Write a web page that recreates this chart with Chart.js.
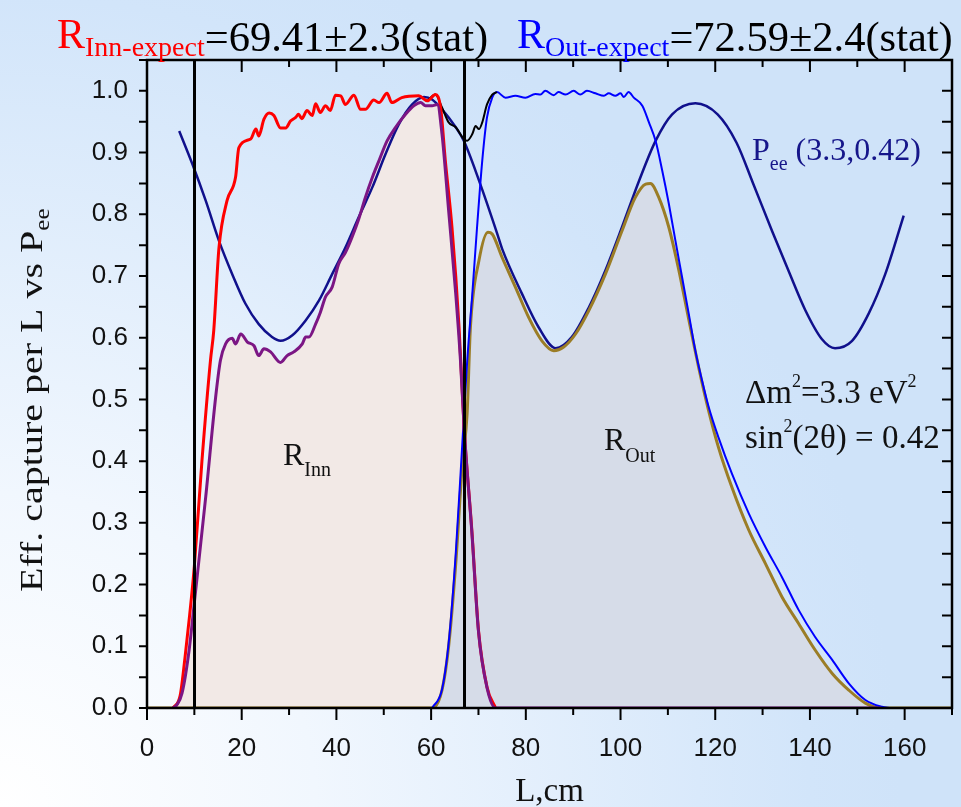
<!DOCTYPE html>
<html>
<head>
<meta charset="utf-8">
<script src="https://cdn.jsdelivr.net/npm/chart.js@4.4.1/dist/chart.umd.min.js"></script>
<style>
  html, body { margin: 0; padding: 0; }
  body {
    width: 961px; height: 807px; overflow: hidden;
    background: radial-gradient(circle 900px at 0 100%, #ffffff 0%, #f1f7fe 35%, #d2e5fa 90%, #cfe3f9 100%);
  }
  canvas { display: block; }
</style>
</head>
<body>
<canvas id="chart" width="961" height="807"></canvas>
<script>
// --- values ---
// inner detector efficiency (red)
const innEffL = [5.5, 7, 8, 9, 10, 11.6, 13.4, 14.1, 15.2, 16.9, 18.7, 19.4, 21.9, 23, 23.6, 24.7, 25.8, 26.8, 28.2, 29.3, 30.3, 31.4, 32, 32.7, 33.8, 34.9, 35.6, 36.6, 37.7, 38.7, 39.8, 40.9, 41.9, 43.7, 45.1, 46.1, 47.9, 49, 50.7, 51.7, 53.8, 57.4, 59.2, 60.9, 62, 63, 64.4, 65.9, 67, 68.6, 70, 71.8, 73.6];
const innEff = [0, 0.02, 0.08, 0.15, 0.23, 0.40, 0.563, 0.612, 0.746, 0.822, 0.86, 0.908, 0.922, 0.938, 0.927, 0.954, 0.964, 0.96, 0.94, 0.94, 0.951, 0.957, 0.962, 0.955, 0.968, 0.96, 0.979, 0.965, 0.976, 0.968, 0.993, 0.992, 0.978, 0.993, 0.97, 0.97, 0.985, 0.981, 0.996, 0.981, 0.989, 0.992, 0.984, 0.994, 0.973, 0.887, 0.779, 0.617, 0.45, 0.288, 0.126, 0.034, 0];

// inner rate x Pee (purple, filled)
const innRateL = [5.5, 6.3, 7.4, 8.9, 9.9, 12.4, 14.5, 15.5, 16.6, 18, 18.7, 19.8, 21.2, 22.6, 23.6, 24.7, 26.1, 28.2, 29.6, 31, 32.8, 33.5, 34.2, 35.6, 36.6, 37.7, 39.1, 40.5, 41.9, 43.3, 44.7, 46.1, 47.6, 49, 50.7, 52.5, 54.6, 56.4, 57.8, 58.8, 60.2, 61.3, 62.3, 63.7, 65.2, 66.2, 67, 68.6, 70, 71.8, 73.6, 100, 155];
const innRate = [0, 0.005, 0.024, 0.094, 0.164, 0.342, 0.504, 0.563, 0.59, 0.599, 0.59, 0.606, 0.593, 0.587, 0.571, 0.582, 0.577, 0.56, 0.571, 0.577, 0.59, 0.601, 0.601, 0.622, 0.641, 0.666, 0.682, 0.72, 0.738, 0.763, 0.792, 0.827, 0.86, 0.887, 0.919, 0.941, 0.962, 0.976, 0.981, 0.976, 0.976, 0.978, 0.93, 0.806, 0.671, 0.563, 0.45, 0.285, 0.124, 0.033, 0, 0, 0];

// outer detector efficiency (blue)
const outEffL = [60.2, 62.3, 63.7, 65.2, 66.6, 67.6, 68.7, 69.7, 70.8, 71.8, 72.9, 73.9, 75.7, 77.8, 79.9, 82, 83.1, 84.1, 85.9, 86.9, 88.4, 90.1, 91.5, 92.9, 94.7, 96.5, 97.5, 98.9, 100, 100.7, 101.7, 102.8, 104.6, 106, 107.4, 108.8, 110.2, 111.6, 113, 114.4, 115.8, 117.2, 118.6, 120.7, 123.5, 127.1, 130.6, 134.1, 137.6, 141.1, 144.7, 148.2, 151.7, 155.2, 157];
const outEff = [0, 0.03, 0.105, 0.25, 0.43, 0.56, 0.671, 0.779, 0.887, 0.957, 0.989, 0.998, 0.989, 0.992, 0.989, 0.995, 0.994, 1.0, 0.993, 0.998, 0.994, 1.0, 0.994, 1.0, 0.996, 0.992, 0.996, 0.992, 0.996, 0.99, 0.998, 0.989, 0.976, 0.949, 0.919, 0.871, 0.817, 0.757, 0.698, 0.639, 0.579, 0.531, 0.488, 0.438, 0.38, 0.315, 0.261, 0.212, 0.159, 0.115, 0.078, 0.04, 0.013, 0.002, 0];

// outer rate x Pee (olive, filled)
const outRateL = [0, 60.2, 62.3, 63.7, 65.2, 66.6, 67.6, 68.3, 70.1, 72, 72.9, 75, 77.8, 80.6, 83.4, 85.9, 88, 90.5, 93.3, 96.8, 100.3, 103.1, 105.3, 106.3, 108.1, 110.2, 112.3, 114.4, 116.5, 118.6, 120.7, 123.5, 127.1, 130.6, 134.1, 137.6, 141.1, 144.7, 148.2, 151.7, 155, 170];
const outRate = [0, 0, 0.029, 0.1, 0.234, 0.396, 0.477, 0.617, 0.725, 0.771, 0.768, 0.73, 0.682, 0.633, 0.595, 0.579, 0.585, 0.606, 0.644, 0.703, 0.773, 0.827, 0.849, 0.85, 0.827, 0.779, 0.71, 0.63, 0.552, 0.482, 0.422, 0.358, 0.288, 0.234, 0.18, 0.137, 0.094, 0.056, 0.029, 0.008, 0, 0];

// combined efficiency (black)
const sumL = [59.2, 60.9, 62.3, 63.7, 65.2, 66.9, 67.6, 68.7, 69.4, 70.1, 70.8, 71.8, 72.9, 73.9];
const sum = [0.984, 0.994, 0.973, 0.949, 0.941, 0.922, 0.919, 0.93, 0.943, 0.938, 0.949, 0.978, 0.994, 0.998];

// survival probability Pee(3.3, 0.42) (navy)
const peeL = [6.8, 9.6, 12.4, 15.2, 18, 20.8, 23.6, 26.4, 28.2, 30.7, 33.5, 36.3, 39.1, 41.9, 44.7, 47.6, 50.4, 53.2, 56, 58.5, 60.2, 62.3, 65.2, 66.9, 70.1, 73.9, 75, 79.2, 82.7, 86.3, 89.7, 93.3, 96.8, 100.3, 103.9, 107.4, 110.9, 115.8, 120.5, 124.5, 128, 132, 135.5, 139, 142.5, 145.3, 148.9, 152.4, 155.9, 159.8];
const pee = [0.935, 0.881, 0.822, 0.757, 0.703, 0.655, 0.622, 0.601, 0.595, 0.604, 0.628, 0.66, 0.703, 0.746, 0.795, 0.844, 0.898, 0.946, 0.978, 0.99, 0.986, 0.97, 0.941, 0.919, 0.855, 0.77, 0.744, 0.671, 0.617, 0.583, 0.601, 0.649, 0.709, 0.779, 0.854, 0.919, 0.962, 0.98, 0.962, 0.916, 0.85, 0.773, 0.708, 0.645, 0.598, 0.583, 0.595, 0.639, 0.703, 0.798];

// detector boundaries (vertical lines)
const cuts = [10, 67];

// axes
const xTicks = [0, 20, 40, 60, 80, 100, 120, 140, 160];
const yTicks = [0, 0.1, 0.2, 0.3, 0.4, 0.5, 0.6, 0.7, 0.8, 0.9, 1.0];

const SERIF = '"Liberation Serif", "Times New Roman", serif';
const SANS = '"Liberation Sans", Arial, sans-serif';
const NAVY = '#16168a';

const pts = (xs, ys) => xs.map((v, i) => ({ x: v, y: ys[i] }));

// text pieces with sub/superscripts, drawn one after another
function drawRuns(ctx, x, y, parts) {
    parts.forEach(p => {
        ctx.font = p.size + 'px ' + SERIF;
        ctx.fillStyle = p.color;
        ctx.fillText(p.text, x, y + (p.dy || 0));
        x += ctx.measureText(p.text).width;
    });
}

const decor = {
    id: 'decor',
    afterDatasetsDraw(chart) {
        const { ctx, chartArea: a, scales: { x, y } } = chart;
        ctx.save();
        ctx.strokeStyle = '#000';

        // boundary lines
        ctx.lineWidth = 3;
        cuts.forEach(c => {
            const px = Math.round(x.getPixelForValue(c)) + 0.5;
            ctx.beginPath(); ctx.moveTo(px, a.top); ctx.lineTo(px, a.bottom); ctx.stroke();
        });

        // frame
        ctx.lineWidth = 2.5;
        ctx.strokeRect(a.left, a.top, a.right - a.left, a.bottom - a.top);

        // tick marks
        ctx.lineWidth = 2;
        ctx.beginPath();
        for (let v = 0; v <= 170; v += 10) {
            const px = x.getPixelForValue(v);
            const len = v % 20 === 0 ? 12 : 7;
            ctx.moveTo(px, a.bottom); ctx.lineTo(px, a.bottom + len);
            ctx.moveTo(px, a.top); ctx.lineTo(px, a.top + len);
        }
        for (let k = 0; k <= 21; k++) {
            const py = y.getPixelForValue(k * 0.05);
            ctx.moveTo(a.left, py); ctx.lineTo(a.left - 8, py);
            ctx.moveTo(a.right, py); ctx.lineTo(a.right - 10, py);
        }
        ctx.stroke();

        // tick labels
        ctx.fillStyle = '#111';
        ctx.font = '26px ' + SANS;
        ctx.textAlign = 'right'; ctx.textBaseline = 'middle';
        yTicks.forEach(v => ctx.fillText(v.toFixed(1), a.left - 19, y.getPixelForValue(v)));
        ctx.textAlign = 'center'; ctx.textBaseline = 'alphabetic';
        xTicks.forEach(v => ctx.fillText(String(v), x.getPixelForValue(v), 756));

        // axis titles
        ctx.font = '33px ' + SERIF;
        ctx.fillStyle = '#111';
        ctx.textAlign = 'center';
        ctx.fillText('L,cm', (a.left + a.right) / 2, 801);
        ctx.textAlign = 'left';
        ctx.save();
        ctx.translate(42, 592);
        ctx.rotate(-Math.PI / 2);
        ctx.scale(1.25, 1);
        drawRuns(ctx, 0, 0, [
            { text: 'Eff. capture per L vs P', size: 32, color: '#111' },
            { text: 'ee', size: 20, color: '#111', dy: 7 }
        ]);
        ctx.restore();

        // headline values
        drawRuns(ctx, 57, 48, [
            { text: 'R', size: 42, color: '#ff0000' },
            { text: 'Inn-expect', size: 28, color: '#ff0000', dy: 8 },
            { text: '=69.41\u00b12.3(stat)', size: 42.5, color: '#000', dy: 3 }
        ]);
        drawRuns(ctx, 517, 48, [
            { text: 'R', size: 42, color: '#0000ff' },
            { text: 'Out-expect', size: 28, color: '#0000ff', dy: 8 },
            { text: '=72.59\u00b12.4(stat)', size: 42.5, color: '#000', dy: 3 }
        ]);

        // annotations
        drawRuns(ctx, 752, 160, [
            { text: 'P', size: 32, color: NAVY },
            { text: 'ee', size: 20, color: NAVY, dy: 10 },
            { text: ' (3.3,0.42)', size: 32, color: NAVY }
        ]);
        drawRuns(ctx, 745, 403, [
            { text: '\u0394m', size: 33, color: '#111' },
            { text: '2', size: 18, color: '#111', dy: -16 },
            { text: '=3.3 eV', size: 33, color: '#111' },
            { text: '2', size: 18, color: '#111', dy: -16 }
        ]);
        drawRuns(ctx, 745, 448, [
            { text: 'sin', size: 33, color: '#111' },
            { text: '2', size: 18, color: '#111', dy: -16 },
            { text: '(2\u03b8) = 0.42', size: 33, color: '#111' }
        ]);
        drawRuns(ctx, 283, 465, [
            { text: 'R', size: 32, color: '#111' },
            { text: 'Inn', size: 20, color: '#111', dy: 11 }
        ]);
        drawRuns(ctx, 604, 450, [
            { text: 'R', size: 32, color: '#111' },
            { text: 'Out', size: 20, color: '#111', dy: 12 }
        ]);
        ctx.restore();
    }
};

new Chart(document.getElementById('chart'), {
    type: 'line',
    data: {
        datasets: [
            { label: 'R_Inn x Pee', data: pts(innRateL, innRate), borderColor: '#7c1684', borderWidth: 3, order: 1 },
            { label: 'Inner efficiency', data: pts(innEffL, innEff), borderColor: '#ff0000', borderWidth: 3, order: 2 },
            { label: 'Total efficiency', data: pts(sumL, sum), borderColor: '#000000', borderWidth: 2, order: 3 },
            { label: 'Outer efficiency', data: pts(outEffL, outEff), borderColor: '#0000ff', borderWidth: 2, order: 4 },
            { label: 'R_Out x Pee', data: pts(outRateL, outRate), borderColor: '#9b7d26', borderWidth: 3, order: 5 },
            { label: 'Pee', data: pts(peeL, pee), borderColor: '#10108c', borderWidth: 2.5, order: 6 },
            { label: 'R_Out area', data: pts(outRateL, outRate), borderWidth: 0, borderColor: 'rgba(0,0,0,0)', backgroundColor: '#d6dce8', fill: 'origin', order: 9 },
            { label: 'R_Inn area', data: pts(innRateL, innRate), borderWidth: 0, borderColor: 'rgba(0,0,0,0)', backgroundColor: '#f2e9e6', fill: 'origin', order: 10 }
        ]
    },
    options: {
        responsive: false,
        devicePixelRatio: 1,
        animation: false,
        events: [],
        layout: { padding: { left: 0, right: 9, top: 60, bottom: 0 } },
        elements: {
            point: { radius: 0 },
            line: { cubicInterpolationMode: 'monotone', borderJoinStyle: 'round' }
        },
        plugins: { legend: { display: false }, tooltip: { enabled: false } },
        scales: {
            x: {
                type: 'linear', min: 0, max: 170,
                grid: { display: false, drawTicks: false },
                border: { display: false },
                ticks: { display: false },
                afterFit(scale) { scale.height = 99; }
            },
            y: {
                min: 0, max: 1.05,
                grid: { display: false, drawTicks: false },
                border: { display: false },
                ticks: { display: false },
                afterFit(scale) { scale.width = 147; }
            }
        }
    },
    plugins: [decor]
});
</script>
</body>
</html>
